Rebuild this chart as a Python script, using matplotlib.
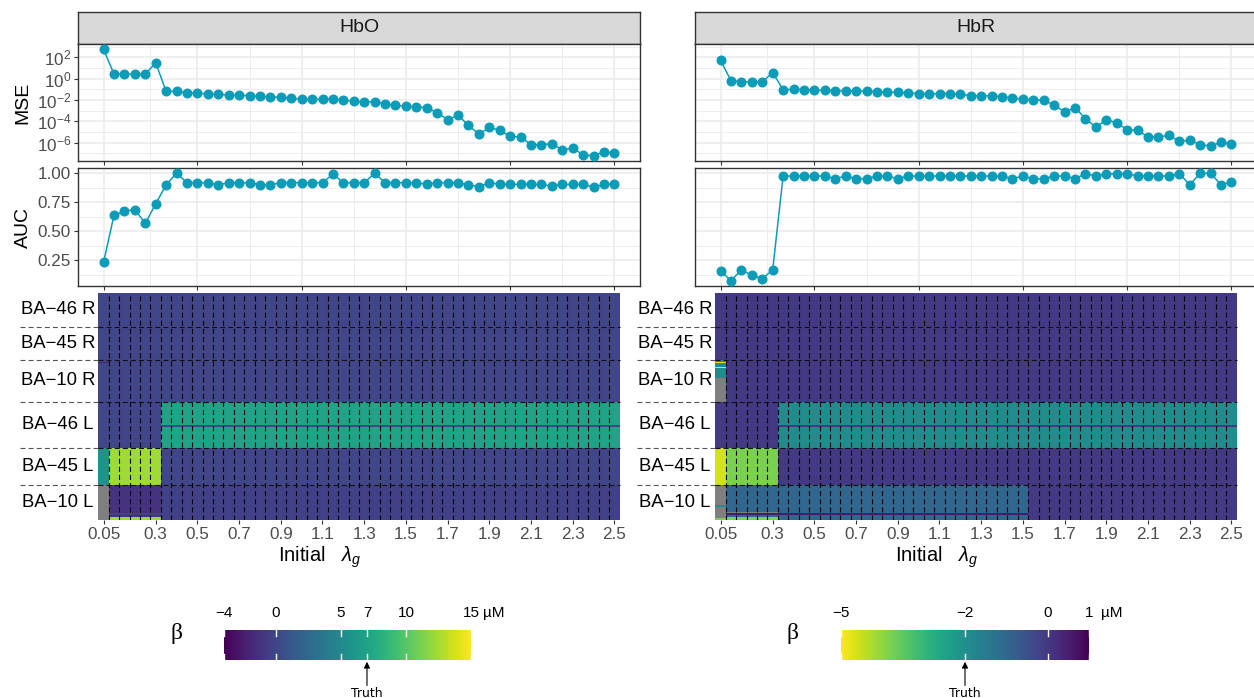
import numpy as np
import matplotlib
matplotlib.use("Agg")
import matplotlib.pyplot as plt
from matplotlib import transforms

plt.rcParams['font.family'] = ['Liberation Sans', 'DejaVu Sans']
plt.rcParams['mathtext.fontset'] = 'custom'
plt.rcParams['mathtext.rm'] = 'Liberation Sans'
plt.rcParams['mathtext.it'] = 'Liberation Sans:italic'
plt.rcParams['mathtext.bf'] = 'Liberation Sans:bold'

# --- Daten ---
lam = [0.05, 0.10, 0.15, 0.20, 0.25, 0.30, 0.35, 0.40, 0.45, 0.50,
       0.55, 0.60, 0.65, 0.70, 0.75, 0.80, 0.85, 0.90, 0.95, 1.00,
       1.05, 1.10, 1.15, 1.20, 1.25, 1.30, 1.35, 1.40, 1.45, 1.50,
       1.55, 1.60, 1.65, 1.70, 1.75, 1.80, 1.85, 1.90, 1.95, 2.00,
       2.05, 2.10, 2.15, 2.20, 2.25, 2.30, 2.35, 2.40, 2.45, 2.50]

hbo_mse = [562, 2.74, 2.74, 2.55, 2.55, 31.6, 0.065, 0.065, 0.0453, 0.0453,
           0.0365, 0.034, 0.0294, 0.0274, 0.0255, 0.0221, 0.0191, 0.0178, 0.0143, 0.0116,
           0.0116, 0.0116, 0.0124, 0.0100, 0.0075, 0.0065, 0.0070, 0.00453, 0.00316, 0.00255,
           0.00221, 0.00191, 6.5e-4, 1.43e-4, 3.65e-4, 4.2e-5, 6.0e-6, 2.74e-5, 1.43e-5, 3.9e-6,
           3.4e-6, 6.5e-7, 6.5e-7, 8.1e-7, 2.05e-7, 3.16e-7, 7.0e-8, 6.0e-8, 1.43e-7, 1.07e-7]

hbr_mse = [52, 0.65, 0.52, 0.49, 0.49, 3.65, 0.093, 0.100, 0.093, 0.0866,
           0.0806, 0.075, 0.075, 0.0698, 0.065, 0.0604, 0.0562, 0.0523, 0.0453, 0.0392,
           0.0392, 0.0392, 0.0392, 0.034, 0.0255, 0.0237, 0.0255, 0.0205, 0.0154, 0.0116,
           0.0107, 0.0093, 0.0034, 7.5e-4, 0.00191, 1.78e-4, 2.74e-5, 1.43e-4, 7.0e-5, 1.66e-5,
           1.43e-5, 3.4e-6, 3.4e-6, 4.87e-6, 1.33e-6, 1.66e-6, 6.5e-7, 4.87e-7, 1.07e-6, 8.1e-7]

hbo_auc = [0.233, 0.638, 0.675, 0.687, 0.569, 0.736, 0.902, 1.000, 0.920, 0.920,
           0.920, 0.900, 0.920, 0.920, 0.920, 0.902, 0.900, 0.920, 0.920, 0.920,
           0.920, 0.920, 0.994, 0.920, 0.920, 0.920, 1.000, 0.920, 0.920, 0.920,
           0.920, 0.905, 0.920, 0.920, 0.920, 0.902, 0.885, 0.920, 0.905, 0.905,
           0.905, 0.905, 0.905, 0.890, 0.905, 0.905, 0.905, 0.880, 0.905, 0.908]

hbr_auc = [0.158, 0.075, 0.167, 0.121, 0.092, 0.167, 0.977, 0.977, 0.977, 0.977,
           0.977, 0.954, 0.977, 0.954, 0.954, 0.977, 0.977, 0.954, 0.977, 0.977,
           0.977, 0.977, 0.977, 0.977, 0.977, 0.977, 0.977, 0.977, 0.954, 0.977,
           0.954, 0.954, 0.977, 0.977, 0.954, 0.997, 0.977, 0.997, 0.997, 0.997,
           0.977, 0.977, 0.977, 0.977, 0.997, 0.902, 1.000, 1.000, 0.902, 0.925]

# Regionen von oben nach unten, Anzahl Voxel je Region
regions = ["BA−46 R", "BA−45 R", "BA−10 R", "BA−46 L", "BA−45 L", "BA−10 L"]
region_voxels = [20, 20, 25, 28, 22, 21]

nan = np.nan
# beta je Region und lambda (HbO)
hbo_beta = {
    "BA−46 R": [0.0] * 50,
    "BA−45 R": [0.0] * 50,
    "BA−10 R": [0.0] * 50,
    "BA−46 L": [0.0] * 6 + [7.0] * 44,
    "BA−45 L": [5.5] + [12.3] * 5 + [0.0] * 44,
    "BA−10 L": [nan] + [-1.2] * 5 + [-0.4] * 44,
}
# einzelne Voxel-Abweichungen: (Region, Voxel von, bis, Spalte von, bis, Wert)
hbo_patches = [
    ("BA−10 R", 1, 1, 0, 0, -2.0),
    ("BA−46 L", 14, 14, 0, 49, 0.0),
    ("BA−10 L", 17, 17, 1, 5, -0.3),
    ("BA−10 L", 19, 20, 1, 5, 12.3),
]

hbr_beta = {
    "BA−46 R": [0.0] * 50,
    "BA−45 R": [0.0] * 50,
    "BA−10 R": [0.0] * 50,
    "BA−46 L": [0.0] * 6 + [-1.9] * 44,
    "BA−45 L": [-4.6] + [-3.8] * 5 + [0.0] * 44,
    "BA−10 L": [nan] + [-0.95] * 29 + [0.0] * 20,
}
hbr_patches = [
    ("BA−10 R", 0, 10, 0, 0, -1.9),
    ("BA−10 R", 1, 1, 0, 0, -4.7),
    ("BA−10 R", 4, 4, 0, 0, -4.7),
    ("BA−10 R", 11, 24, 0, 0, nan),
    ("BA−46 L", 14, 14, 0, 49, 0.0),
    ("BA−10 L", 12, 12, 0, 0, -1.9),
    ("BA−10 L", 20, 20, 0, 0, -3.8),
    ("BA−10 L", 16, 16, 1, 5, nan),
    ("BA−10 L", 17, 17, 1, 29, 0.6),
    ("BA−10 L", 19, 20, 1, 5, -3.8),
]

heat_ticks = [0.05, 0.3, 0.5, 0.7, 0.9, 1.1, 1.3, 1.5, 1.7, 1.9, 2.1, 2.3, 2.5]
heat_ticklabels = ["0.05", "0.3", "0.5", "0.7", "0.9", "1.1", "1.3", "1.5",
                   "1.7", "1.9", "2.1", "2.3", "2.5"]

# --- Stil ---
W, H = 1254, 698
LINE_COL = '#0C9CB8'
GRID_COL = '#EBEBEB'
BORDER_COL = '#333333'
TICK_TXT = '#4D4D4D'
DASH = (0, (4.5, 2.8))

fig = plt.figure(figsize=(W / 100, H / 100), dpi=100)


def px_box(left, top, right, bottom):
    return [left / W, 1 - bottom / H, (right - left) / W, (bottom - top) / H]


def build_matrix(beta, patches):
    blocks = [np.tile(np.array(beta[name], dtype=float), (n, 1))
              for name, n in zip(regions, region_voxels)]
    mat = np.vstack(blocks)
    starts = np.cumsum([0] + region_voxels[:-1])
    for name, v0, v1, c0, c1, val in patches:
        r = starts[regions.index(name)]
        mat[r + v0:r + v1 + 1, c0:c1 + 1] = val
    return mat


lam_arr = np.array(lam)
span = lam_arr[-1] - lam_arr[0]
xlim_top = (lam_arr[0] - 0.05 * span, lam_arr[-1] + 0.05 * span)
x_major = [0.05, 0.5, 1.0, 1.5, 2.0, 2.5]
x_minor = [0.275, 0.75, 1.25, 1.75, 2.25]

# gemeinsame y-Achsen (wie facet_grid)
all_log = np.log10(np.r_[hbo_mse, hbr_mse])
pad = 0.05 * (all_log.max() - all_log.min())
mse_lim = (10 ** (all_log.min() - pad), 10 ** (all_log.max() + pad))
all_auc = np.r_[hbo_auc, hbr_auc]
pad = 0.05 * (all_auc.max() - all_auc.min())
auc_lim = (all_auc.min() - pad, all_auc.max() + pad)


def style_top(ax, show_y):
    ax.set_xlim(*xlim_top)
    ax.set_xticks(x_major)
    ax.set_xticks(x_minor, minor=True)
    ax.set_xticklabels([])
    ax.grid(True, which='major', color=GRID_COL, lw=1.1)
    ax.grid(True, which='minor', color=GRID_COL, lw=0.6)
    ax.set_axisbelow(True)
    for s in ax.spines.values():
        s.set_color(BORDER_COL)
        s.set_linewidth(1.0)
    ax.tick_params(which='major', axis='x', length=3, width=0.8, color=BORDER_COL)
    ax.tick_params(which='minor', length=0)
    ax.tick_params(axis='y', which='major', length=3 if show_y else 0, width=0.8,
                   color=BORDER_COL, labelsize=12.3, labelcolor=TICK_TXT, pad=2,
                   labelleft=show_y)


def draw_panel(dx, title, mse, auc, mat, cmap, vmin, vmax, show_y):
    # Streifen mit Titel
    ax_s = fig.add_axes(px_box(78 + dx, 12, 640 + dx, 44))
    ax_s.set_facecolor('#D9D9D9')
    ax_s.set_xticks([])
    ax_s.set_yticks([])
    for s in ax_s.spines.values():
        s.set_color(BORDER_COL)
        s.set_linewidth(1.0)
    ax_s.text(0.5, 0.5, title, ha='center', va='center', fontsize=14, color='#1A1A1A',
              transform=ax_s.transAxes)

    # MSE
    ax_m = fig.add_axes(px_box(78 + dx, 44, 640 + dx, 161))
    ax_m.plot(lam, mse, color=LINE_COL, lw=1.1, marker='o', ms=6.2, zorder=3)
    ax_m.set_yscale('log')
    ax_m.set_ylim(*mse_lim)
    ax_m.set_yticks([1e2, 1e0, 1e-2, 1e-4, 1e-6])
    ax_m.set_yticklabels([r'$10^{2}$', r'$10^{0}$', r'$10^{-2}$', r'$10^{-4}$', r'$10^{-6}$'])
    ax_m.set_yticks([1e3, 1e1, 1e-1, 1e-3, 1e-5, 1e-7], minor=True)
    ax_m.set_yticklabels([], minor=True)
    style_top(ax_m, show_y)
    if show_y:
        ax_m.set_ylabel('MSE', fontsize=14, labelpad=4)

    # AUC
    ax_a = fig.add_axes(px_box(78 + dx, 168, 640 + dx, 286))
    ax_a.plot(lam, auc, color=LINE_COL, lw=1.1, marker='o', ms=6.2, zorder=3)
    ax_a.set_ylim(*auc_lim)
    ax_a.set_yticks([0.25, 0.5, 0.75, 1.0])
    ax_a.set_yticklabels(['0.25', '0.50', '0.75', '1.00'])
    ax_a.set_yticks([0.125, 0.375, 0.625, 0.875], minor=True)
    style_top(ax_a, show_y)
    if show_y:
        ax_a.set_ylabel('AUC', fontsize=14, labelpad=4)

    # Heatmap
    ax_h = fig.add_axes(px_box(98.3 + dx, 293.3, 619.6 + dx, 520))
    edges = np.r_[lam_arr[0] - 0.025, (lam_arr[:-1] + lam_arr[1:]) / 2, lam_arr[-1] + 0.025]
    n_vox = mat.shape[0]
    cm = plt.get_cmap(cmap).copy()
    cm.set_bad('#7F7F7F')
    ax_h.pcolormesh(edges, np.arange(n_vox + 1), np.ma.masked_invalid(mat), cmap=cm,
                    vmin=vmin, vmax=vmax, shading='flat', antialiased=False, linewidth=0)
    ax_h.set_xlim(edges[0], edges[-1])
    ax_h.set_ylim(n_vox, 0)
    for s in ax_h.spines.values():
        s.set_visible(False)
    ax_h.set_yticks([])
    ax_h.set_xticks(heat_ticks)
    ax_h.set_xticklabels(heat_ticklabels)
    ax_h.tick_params(axis='x', length=3, width=0.8, color=BORDER_COL, labelsize=12.3,
                     labelcolor=TICK_TXT, pad=2)
    for e in edges[1:-1]:
        ax_h.axvline(e, color='black', lw=0.8, ls=DASH)

    trans = transforms.blended_transform_factory(fig.transFigure, ax_h.transData)
    bounds = np.cumsum(region_voxels)
    for b in bounds[:-1]:
        # im Beschriftungsbereich grau, in der Heatmap schwarz
        ax_h.plot([(20 + dx) / W, (98.3 + dx) / W], [b, b], transform=trans,
                  color='#555555', lw=0.8, ls=DASH, clip_on=False)
        ax_h.plot([(98.3 + dx) / W, (619.6 + dx) / W], [b, b], transform=trans,
                  color='#111111', lw=0.8, ls=DASH, clip_on=False)
    centers = bounds - np.array(region_voxels) / 2
    for name, c in zip(regions, centers):
        ax_h.text((58 + dx) / W, c, name, transform=trans, ha='center', va='center',
                  fontsize=13.3, color='black')

    fig.text((320 + dx) / W, 1 - 557 / H, r'Initial   $\lambda_g$', ha='center', va='center',
             fontsize=14.5)


def draw_colorbar(left, right, cmap, vmin, vmax, ticks, labels, truth, beta_x):
    cax = fig.add_axes(px_box(left, 630, right, 660))
    grad = np.linspace(vmin, vmax, 512).reshape(1, -1)
    cax.imshow(grad, cmap=cmap, vmin=vmin, vmax=vmax, aspect='auto',
               extent=[vmin, vmax, 0, 1], interpolation='bilinear')
    cax.set_xlim(vmin, vmax)
    cax.set_ylim(0, 1)
    cax.axis('off')
    for t in ticks:
        cax.plot([t, t], [0.0, 0.2], color='white', lw=1.0)
        cax.plot([t, t], [0.8, 1.0], color='white', lw=1.0)
    for t, lab in zip(ticks, labels):
        cax.text(t, 1.57, lab, ha='center', va='center', fontsize=11, clip_on=False)
    cax.annotate('µM', xy=(vmax, 1.57), xytext=(8.5, 0), textcoords='offset points',
                 ha='left', va='center', fontsize=11, annotation_clip=False)
    cax.annotate('', xy=(truth, -0.06), xytext=(truth, -0.85),
                 arrowprops=dict(arrowstyle='-|>', color='black', lw=0.8, mutation_scale=9,
                                 shrinkA=0, shrinkB=0), annotation_clip=False)
    fig.text((left + (truth - vmin) / (vmax - vmin) * (right - left)) / W, 1 - 697 / H,
             'Truth', ha='center', va='baseline', fontsize=9, family='DejaVu Sans')
    fig.text(beta_x / W, 1 - 634 / H, 'β', ha='center', va='center', fontsize=17,
             family=['Liberation Serif', 'DejaVu Serif'])


hbo_mat = build_matrix(hbo_beta, hbo_patches)
hbr_mat = build_matrix(hbr_beta, hbr_patches)

draw_panel(0, 'HbO', hbo_mse, hbo_auc, hbo_mat, 'viridis', -4, 15, True)
draw_panel(617, 'HbR', hbr_mse, hbr_auc, hbr_mat, 'viridis_r', -5, 1, False)

draw_colorbar(224, 471, 'viridis', -4, 15, [-4, 0, 5, 7, 10, 15],
              ['−4', '0', '5', '7', '10', '15'], 7, 176)
draw_colorbar(841, 1089, 'viridis_r', -5, 1, [-5, -2, 0, 1],
              ['−5', '−2', '0', '1'], -2, 793)

fig.savefig('out.png', dpi=100)
